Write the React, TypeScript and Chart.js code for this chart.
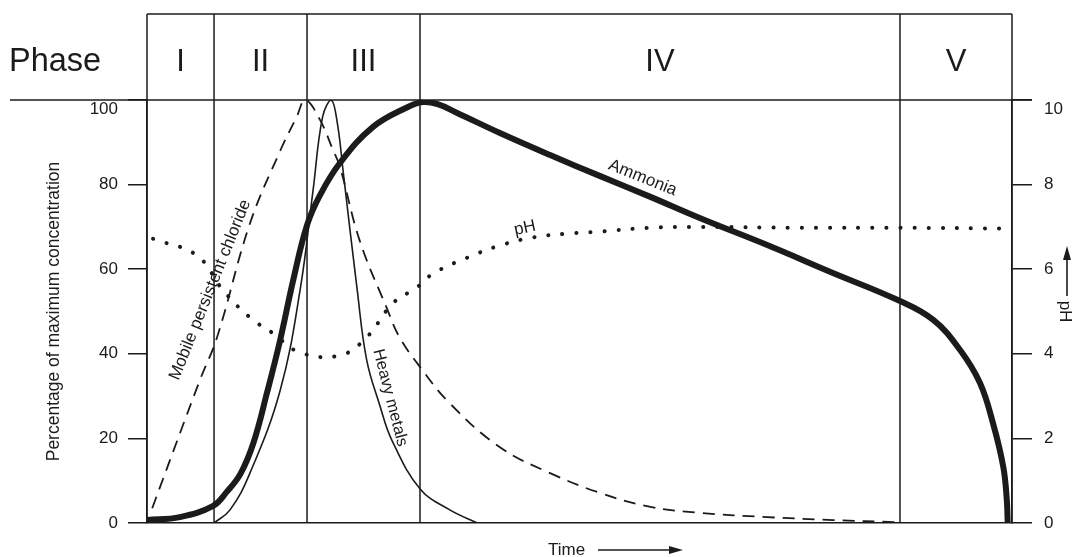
import React, { useEffect, useRef } from 'react';
import { Chart, registerables } from 'chart.js';

Chart.register(...registerables);

const FONT = "'Liberation Sans', Arial, Helvetica, sans-serif";
const INK = '#1b1b1b';

// Phases (time units 0..100)
const phaseNames = ['I', 'II', 'III', 'IV', 'V'];
const phaseBounds = [0, 7.75, 18.5, 31.56, 87.05, 100];

// Left axis ticks (percent) and right axis ticks (pH)
const pctTicks = [0, 20, 40, 60, 80, 100];
const phTicks = [0, 2, 4, 6, 8, 10];

// Ammonia (% of max concentration)
const ammoniaTime = [0, 3.8, 7.6, 9.2, 10.8, 12.3, 13.9, 15.4, 16.9, 18.5, 20.0, 22.3, 26.1, 30.1, 31.9, 33.6, 35.8, 40.8, 46.6, 52.4, 58.2, 63.9, 71.7, 79.3, 86.8, 90.9, 94.0, 96.3, 97.8, 99.0, 99.4, 99.5];
const ammoniaPct = [0.7, 1.4, 4.0, 7.3, 11.6, 18.9, 31.0, 43.3, 57.4, 70.4, 77.5, 85.1, 93.6, 98.3, 99.5, 99.0, 97.0, 92.2, 87.0, 82.0, 77.1, 72.1, 65.7, 59.1, 52.7, 48.0, 40.9, 33.1, 23.6, 13.2, 5.4, 0.2];

// Mobile persistent chloride (% of max)
const chlorideTime = [0.6, 6.1, 8.1, 11.9, 15.4, 17.3, 18.3, 20.0, 21.5, 22.3, 24.6, 27.7, 29.2, 31.6, 35.0, 40.8, 46.6, 52.4, 58.2, 63.9, 71.7, 79.3, 86.7];
const chloridePct = [3.5, 33.7, 43.9, 70.8, 88.0, 96.0, 100, 95.3, 88.2, 84.2, 66.7, 50.9, 43.9, 36.8, 28.3, 17.9, 11.8, 7.1, 3.8, 2.4, 1.4, 0.7, 0.2];

// Heavy metals (% of max)
const metalsTime = [7.75, 9.6, 11.9, 15.4, 17.7, 19.2, 20.3, 21.3, 22.0, 22.7, 24.3, 25.4, 26.9, 28.3, 31.6, 35.0, 38.2];
const metalsPct = [0, 3.1, 11.8, 31.4, 55.1, 78.7, 96.0, 100, 94.6, 82.7, 55.1, 38.5, 27.9, 19.6, 8.0, 3.1, 0];

// pH (right axis)
const phTime = [0.7, 5.8, 8.8, 11.9, 14.6, 17.7, 22.3, 25.4, 28.4, 31.2, 33.1, 37.0, 40.8, 44.6, 48.6, 52.4, 58.2, 63.9, 75.5, 87.1, 99.8];
const phValue = [6.72, 6.32, 5.5, 4.86, 4.48, 4.03, 3.96, 4.39, 5.19, 5.57, 5.9, 6.27, 6.56, 6.75, 6.84, 6.89, 6.98, 7.0, 6.98, 6.98, 6.96];

// Curve annotations (position in data units on left axis, angle in degrees)
const curveLabels = [
  { text: 'Mobile persistent chloride', x: 7.3, y: 55.1, angle: -68, size: 17 },
  { text: 'Heavy metals', x: 28.1, y: 29.6, angle: 75.5, size: 16.5 },
  { text: 'Ammonia', x: 57.3, y: 81.6, angle: 22, size: 17 },
  { text: 'pH', x: 43.7, y: 69.7, angle: -12, size: 17 },
];

function pts(xs: number[], ys: number[]) {
  return xs.map((x, i) => ({ x, y: ys[i] }));
}

const LEFT_TICK = 19;
const RIGHT_TICK = 20;
const LEFT_PAD = 10;
const RIGHT_PAD = 12;
const HEADER_TOP = 14;

function line(ctx: CanvasRenderingContext2D, x1: number, y1: number, x2: number, y2: number) {
  ctx.beginPath();
  ctx.moveTo(x1, y1);
  ctx.lineTo(x2, y2);
  ctx.stroke();
}

const decorPlugin = {
  id: 'decor',
  afterDraw(chart: any) {
    const { ctx, scales } = chart;
    const xs = scales.x, ys = scales.y, yr = scales.y1;
    const yTop = ys.getPixelForValue(100);
    const yBot = ys.getPixelForValue(0);
    ctx.save();
    ctx.strokeStyle = INK;
    ctx.fillStyle = INK;
    ctx.lineWidth = 1.5;
    // header box
    line(ctx, xs.getPixelForValue(0), HEADER_TOP, xs.getPixelForValue(100), HEADER_TOP);
    line(ctx, 10, yTop, 1032, yTop);
    phaseBounds.forEach((b) => {
      const px = xs.getPixelForValue(b);
      line(ctx, px, HEADER_TOP, px, yBot);
    });
    ctx.textBaseline = 'middle';
    ctx.textAlign = 'left';
    ctx.font = `32.5px ${FONT}`;
    ctx.fillText('Phase', 9, 62);
    ctx.font = `31px ${FONT}`;
    ctx.textAlign = 'center';
    phaseNames.forEach((n, i) => {
      const c = (xs.getPixelForValue(phaseBounds[i]) + xs.getPixelForValue(phaseBounds[i + 1])) / 2;
      ctx.fillText(n, c, 62);
    });
    // top tick labels (shifted below header line)
    ctx.font = `17px ${FONT}`;
    ctx.textAlign = 'right';
    ctx.fillText(String(pctTicks[pctTicks.length - 1]), ys.right - LEFT_TICK - LEFT_PAD, yTop + 9);
    ctx.textAlign = 'left';
    ctx.fillText(String(phTicks[phTicks.length - 1]), yr.left + RIGHT_TICK + RIGHT_PAD, yTop + 9);
    // Time label with arrow
    ctx.font = `17px ${FONT}`;
    ctx.textAlign = 'left';
    ctx.fillText('Time', 548, 550);
    ctx.lineWidth = 1.6;
    line(ctx, 598, 550, 672, 550);
    ctx.beginPath();
    ctx.moveTo(683, 550);
    ctx.lineTo(669, 546);
    ctx.lineTo(669, 554);
    ctx.closePath();
    ctx.fill();
    // pH arrow (up)
    line(ctx, 1067, 296, 1067, 258);
    ctx.beginPath();
    ctx.moveTo(1067, 246);
    ctx.lineTo(1063, 260);
    ctx.lineTo(1071, 260);
    ctx.closePath();
    ctx.fill();
    // curve annotations
    curveLabels.forEach((l) => {
      const px = xs.getPixelForValue(l.x);
      const py = ys.getPixelForValue(l.y);
      ctx.save();
      ctx.translate(px, py);
      ctx.rotate((l.angle * Math.PI) / 180);
      ctx.font = `${l.size}px ${FONT}`;
      ctx.textAlign = 'center';
      ctx.textBaseline = 'middle';
      ctx.fillText(l.text, 0, 0);
      ctx.restore();
    });
    ctx.restore();
  },
};

export default function App() {
  const ref = useRef<HTMLCanvasElement | null>(null);
  useEffect(() => {
    document.body.style.margin = '0';
    if (!ref.current) return;
    const chart = new Chart(ref.current, {
      type: 'line',
      data: {
        datasets: [
          {
            label: 'Ammonia',
            data: pts(ammoniaTime, ammoniaPct),
            borderColor: INK,
            borderWidth: 6,
            pointRadius: 0,
            tension: 0.4,
            borderCapStyle: 'round',
            borderJoinStyle: 'round',
            yAxisID: 'y',
          },
          {
            label: 'Mobile persistent chloride',
            data: pts(chlorideTime, chloridePct),
            borderColor: INK,
            borderWidth: 1.8,
            borderDash: [12, 8],
            pointRadius: 0,
            tension: 0.4,
            yAxisID: 'y',
          },
          {
            label: 'Heavy metals',
            data: pts(metalsTime, metalsPct),
            borderColor: INK,
            borderWidth: 1.6,
            pointRadius: 0,
            tension: 0.4,
            yAxisID: 'y',
          },
          {
            label: 'pH',
            data: pts(phTime, phValue),
            borderColor: INK,
            borderWidth: 4,
            borderDash: [0.1, 14],
            borderCapStyle: 'round',
            pointRadius: 0,
            tension: 0.4,
            yAxisID: 'y1',
          },
        ],
      } as any,
      options: {
        animation: false,
        responsive: false,
        events: [],
        layout: { padding: { top: 100, bottom: 0, left: 0, right: 0 } },
        plugins: { legend: { display: false }, tooltip: { enabled: false } },
        scales: {
          x: {
            type: 'linear',
            min: 0,
            max: 100,
            grid: { display: false },
            border: { display: true, color: INK, width: 1.5 },
            ticks: { display: false },
            afterFit: (s: any) => { s.height = 34; },
          },
          y: {
            type: 'linear',
            position: 'left',
            min: 0,
            max: 100,
            afterBuildTicks: (s: any) => { s.ticks = pctTicks.map((v) => ({ value: v })); },
            ticks: {
              color: INK,
              padding: LEFT_PAD,
              font: { family: FONT, size: 17 },
              callback: (v: any) => (v === 100 ? '' : String(v)),
            },
            grid: { drawOnChartArea: false, drawTicks: true, tickLength: LEFT_TICK, color: INK, lineWidth: 1.5 },
            border: { display: true, color: INK, width: 1.5 },
            title: {
              display: true,
              text: 'Percentage of maximum concentration',
              color: INK,
              font: { family: FONT, size: 17.5 },
              padding: { top: 44, bottom: 0 },
            },
            afterFit: (s: any) => { s.width = 147; },
          },
          y1: {
            type: 'linear',
            position: 'right',
            min: 0,
            max: 10,
            afterBuildTicks: (s: any) => { s.ticks = phTicks.map((v) => ({ value: v })); },
            ticks: {
              color: INK,
              padding: RIGHT_PAD,
              font: { family: FONT, size: 17 },
              callback: (v: any) => (v === 10 ? '' : String(v)),
            },
            grid: { drawOnChartArea: false, drawTicks: true, tickLength: RIGHT_TICK, color: INK, lineWidth: 1.5 },
            border: { display: true, color: INK, width: 1.5 },
            title: {
              display: true,
              text: 'pH',
              color: INK,
              font: { family: FONT, size: 17 },
              padding: { top: 0, bottom: 0 },
            },
            afterFit: (s: any) => { s.width = 63; },
          },
        },
      } as any,
      plugins: [decorPlugin],
    });
    return () => chart.destroy();
  }, []);
  return (
    <div style={{ width: 1075, height: 557, position: 'relative', background: '#fff' }}>
      <canvas ref={ref} width={1075} height={557} />
    </div>
  );
}
